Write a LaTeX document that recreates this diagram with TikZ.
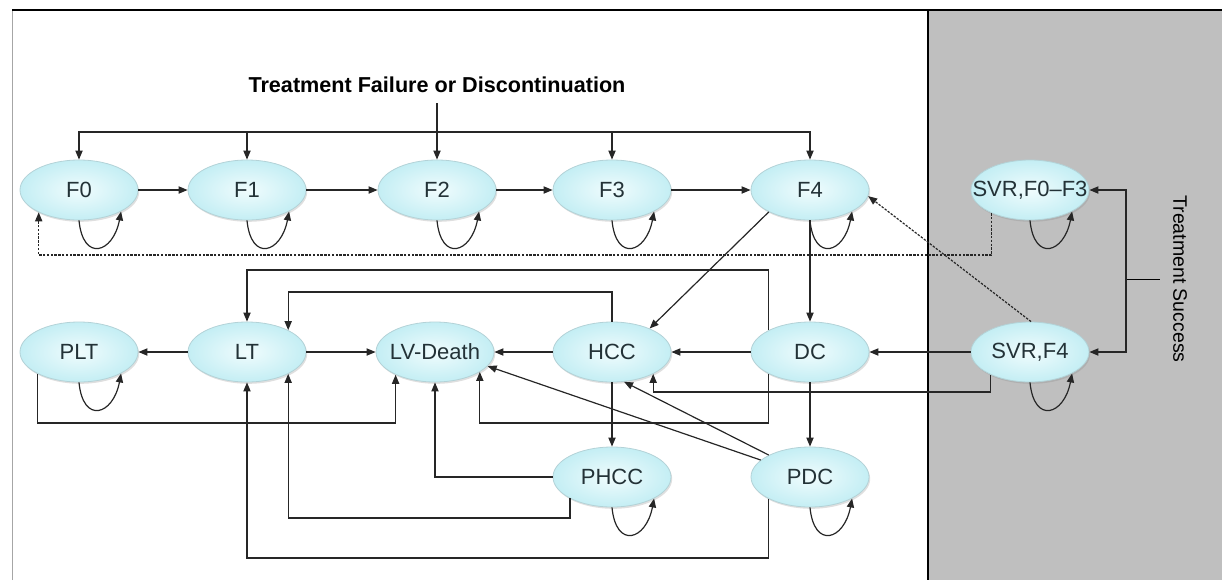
\documentclass[tikz,border=0pt]{standalone}
\usepackage{fontspec}
\setmainfont{Liberation Sans}
\usetikzlibrary{shapes.geometric,arrows.meta,shadows,calc}
\definecolor{stin}{RGB}{240,252,253}
\definecolor{stout}{RGB}{196,238,244}
\definecolor{sttext}{RGB}{35,50,55}
\definecolor{panel}{RGB}{191,191,191}

\begin{document}
\begin{tikzpicture}[x=0.5pt,y=-0.5pt,
	state/.style={ellipse,minimum width=59pt,minimum height=30pt,inner xsep=-8pt,inner ysep=0pt,shade,inner color=stin,outer color=stout,draw=stout!75!gray,line width=0.4pt,drop shadow={shadow xshift=0.6pt,shadow yshift=-0.9pt,opacity=0.25},text=sttext,font=\fontsize{11}{13}\selectfont},
	arr/.style={-{Triangle[length=4.5pt,width=3.6pt]},line width=0.6pt,draw=black!85},
	svrline/.style={arr,dash pattern=on 1.2pt off 0.7pt},
	selfloop/.style={arr,to path={.. controls ($(\tikztostart)+(2pt,-21pt)$) and ($(\tikztotarget)+(-4pt,-21pt)$) .. (\tikztotarget)}}]
	\useasboundingbox (0,0) rectangle (1222,580);
	\fill[panel] (928,10) rectangle (1222,580);
	\draw[gray!70,line width=0.5pt] (12,580) -- (12,10);
	\draw[line width=0.6pt] (12,10) -- (1222,10);
	\draw[line width=0.6pt] (928,10) -- (928,580);
	
	\node[state] (f0) at (79,190) {F0};
	\node[state] (f1) at (247,190) {F1};
	\node[state] (f2) at (437,190) {F2};
	\node[state] (f3) at (612,190) {F3};
	\node[state] (f4) at (810,190) {F4};
	\node[state] (s03) at (1030,190) {SVR,F0--F3};
	\node[state] (plt) at (79,352) {PLT};
	\node[state] (lt) at (247,352) {LT};
	\node[state] (lvd) at (435,352) {LV-Death};
	\node[state] (hcc) at (612,352) {HCC};
	\node[state] (dc) at (810,352) {DC};
	\node[state] (s4) at (1030,352) {SVR,F4};
	\node[state] (phcc) at (612,477) {PHCC};
	\node[state] (pdc) at (810,477) {PDC};
	
	\node[font=\bfseries\fontsize{10.8}{12}\selectfont,inner xsep=0pt,inner ysep=5pt] (title) at (437,85) {Treatment Failure or Discontinuation};
	\node[rotate=-90,font=\fontsize{9.75}{11}\selectfont,inner xsep=0pt,inner ysep=6.4pt] (succ) at (1180,279) {Treatment Success};
	\coordinate (bus) at (437,132);
	\coordinate (ts) at (1126,279);
	
	\draw[arr] (title) -- (f2);
	\draw[arr] (bus) -| (f0);
	\draw[arr] (bus) -| (f1);
	\draw[arr] (bus) -| (f3);
	\draw[arr] (bus) -| (f4);
	
	\draw[arr] (f0) -- (f1);
	\draw[arr] (f1) -- (f2);
	\draw[arr] (f2) -- (f3);
	\draw[arr] (f3) -- (f4);
	\draw[arr] (f4.208) -- (hcc.32);
	\draw[arr] (f4) -- (dc);
	
	\draw[selfloop] (f0.270) to (f0.333);
	\draw[selfloop] (f1.270) to (f1.333);
	\draw[selfloop] (f2.270) to (f2.333);
	\draw[selfloop] (f3.270) to (f3.333);
	\draw[selfloop] (f4.270) to (f4.333);
	\draw[selfloop] (s03.270) to (s03.333);
	\draw[selfloop] (plt.270) to (plt.333);
	\draw[selfloop] (s4.270) to (s4.333);
	\draw[selfloop] (phcc.270) to (phcc.333);
	\draw[selfloop] (pdc.270) to (pdc.333);
	
	\draw[svrline] (s4.88) -- (f4.354);
	\draw[svrline] (s03.211) |- (f0.209 |- 0,255) -- (f0.209);
	
	\draw[arr] (dc.152) |- (lt |- 0,270) -- (lt);
	\draw[arr] (hcc) |- (lt.28 |- 0,292) -- (lt.28);
	\draw[arr] (lt) -- (plt);
	\draw[arr] (lt) -- (lvd);
	\draw[arr] (hcc) -- (lvd);
	\draw[arr] (dc) -- (hcc);
	\draw[arr] (s4) -- (dc);
	\draw[arr] (plt.208) |- (lvd.210 |- 0,423) -- (lvd.210);
	\draw[arr] (dc.208) |- (lvd.336 |- 0,423) -- (lvd.336);
	\draw[arr] (s4.210) |- (hcc.332 |- 0,392) -- (hcc.332);
	\draw[arr] (hcc) -- (phcc);
	\draw[arr] (dc) -- (pdc);
	\draw[arr] (phcc) -| (lvd);
	\draw[arr] (phcc.207) |- (lt.332 |- 0,518) -- (lt.332);
	\draw[arr] (pdc.208) |- (lt |- 0,558) -- (lt);
	\draw[arr] (pdc.152) -- (hcc.292);
	\draw[arr] (pdc) -- (lvd.345);
	
	\draw (succ) -- (ts);
	\draw[arr] (ts) |- (s03);
	\draw[arr] (ts) |- (s4);
\end{tikzpicture}
\end{document}
